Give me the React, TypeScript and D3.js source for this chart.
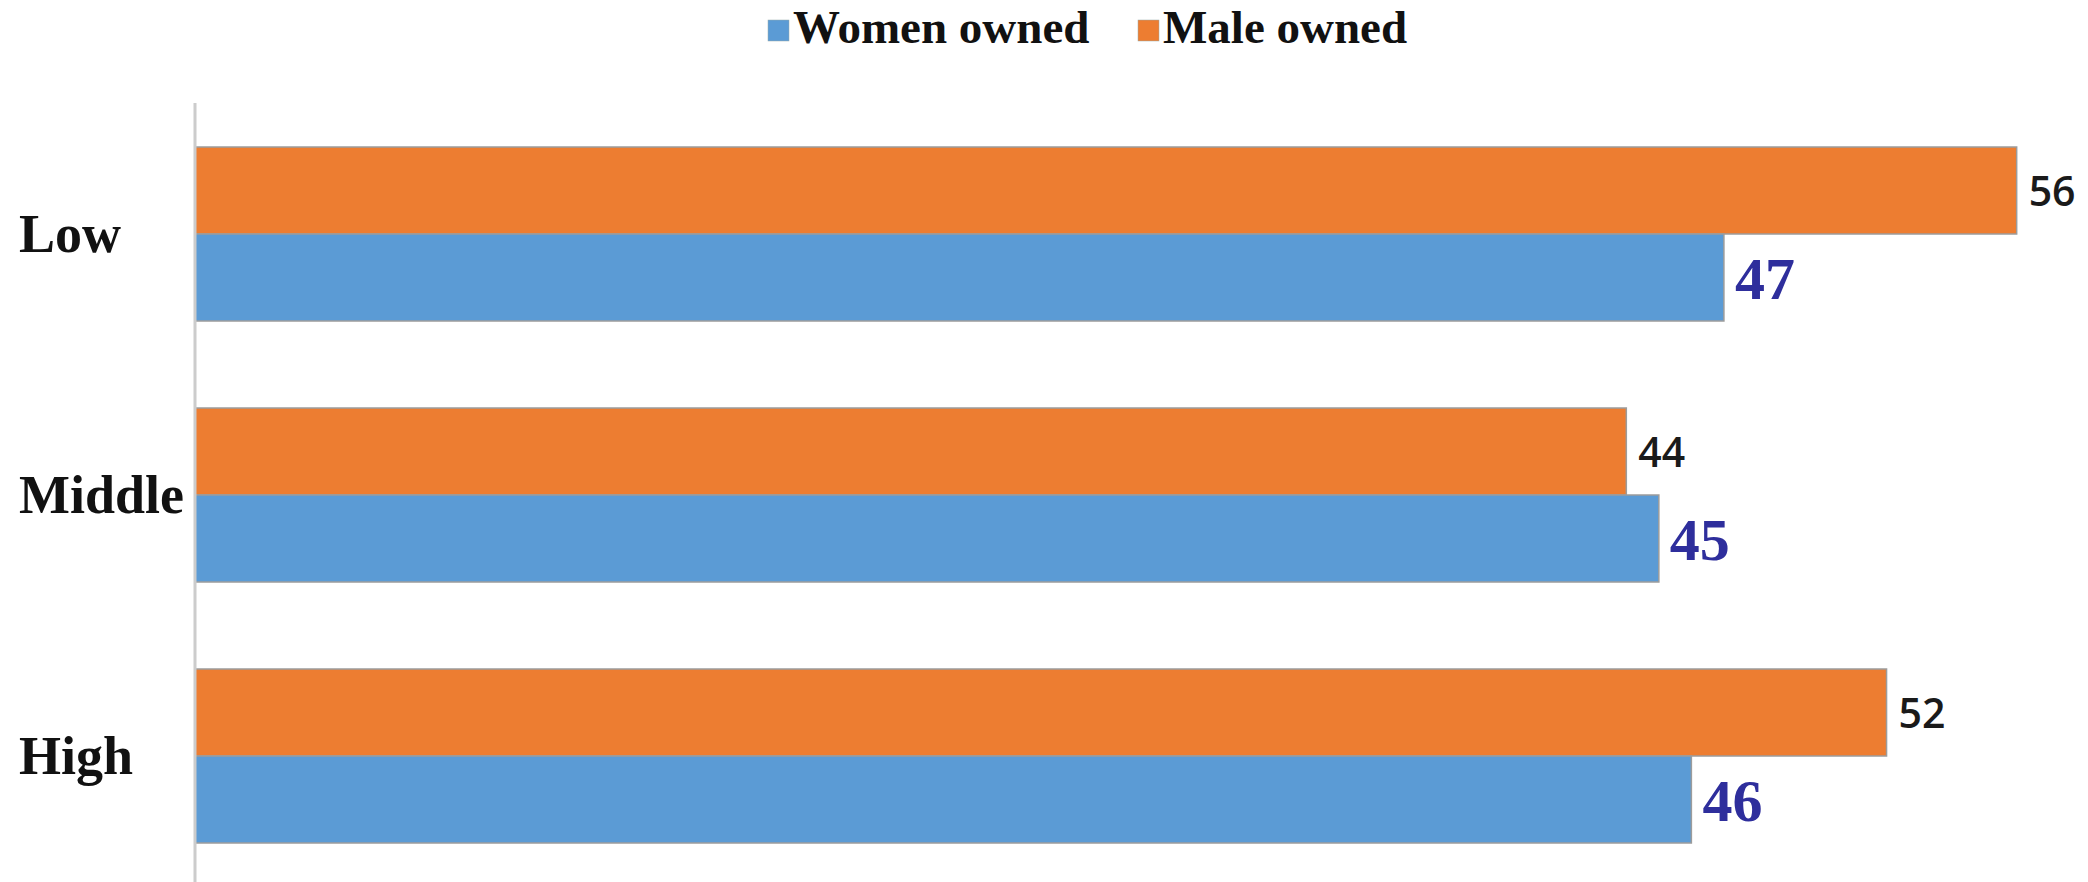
import React from "react";
import * as d3 from "d3";

const categories = ["Low", "Middle", "High"];
const seriesNames = ["Male owned", "Women owned"];
const maleOwned = [56, 44, 52];
const womenOwned = [47, 45, 46];
const legendOrder = ["Women owned", "Male owned"];

const W = 2088;
const H = 882;
const colors: Record<string, string> = {
  "Women owned": "#5B9BD5",
  "Male owned": "#ED7D31",
};

export default function App() {
  const x0 = 195;
  const x = d3.scaleLinear().domain([0, 60]).range([x0, x0 + 60 * 32.53]);
  const y = d3
    .scaleBand<string>()
    .domain(categories)
    .range([103.5, 886.5])
    .paddingInner(1 / 3)
    .paddingOuter(1 / 6);
  const ySub = d3
    .scaleBand<string>()
    .domain(seriesNames)
    .range([0, y.bandwidth()]);

  const valuesFor = (s: string) => (s === "Male owned" ? maleOwned : womenOwned);

  return (
    <svg
      width={W}
      height={H}
      style={{ position: "absolute", left: 0, top: 0, display: "block", background: "#fff" }}
    >
      {/* legend */}
      {legendOrder.map((s, i) => {
        const lx = i === 0 ? 768 : 1138;
        return (
          <g key={s}>
            <rect x={lx} y={20} width={21} height={21} fill={colors[s]} stroke="#9aa" strokeWidth={0.5} />
            <text
              x={lx + 25}
              y={43}
              fontFamily="'Liberation Serif', 'Times New Roman', serif"
              fontWeight="bold"
              fontSize={47}
              fill="#111"
            >
              {s}
            </text>
          </g>
        );
      })}

      {/* bars */}
      {categories.map((c, ci) => (
        <g key={c}>
          {seriesNames.map((s) => {
            const v = valuesFor(s)[ci];
            const by = (y(c) as number) + (ySub(s) as number);
            const bh = ySub.bandwidth();
            const xe = x(v);
            const isMale = s === "Male owned";
            return (
              <g key={s}>
                <rect
                  x={x0}
                  y={by}
                  width={xe - x0}
                  height={bh}
                  fill={colors[s]}
                  stroke="#9c9c9c"
                  strokeWidth={1.5}
                />
                {isMale ? (
                  <text
                    x={xe + 12}
                    y={by + bh / 2 + 15}
                    fontFamily="'Open Sans', Lato, sans-serif"
                    fontWeight={600}
                    fontSize={41}
                    fill="#1a1a1a"
                  >
                    {v}
                  </text>
                ) : (
                  <text
                    x={xe + 11}
                    y={by + bh / 2 + 21}
                    fontFamily="'Liberation Serif', 'Times New Roman', serif"
                    fontWeight="bold"
                    fontSize={60}
                    fill="#2E2E9C"
                  >
                    {v}
                  </text>
                )}
              </g>
            );
          })}
          <text
            x={19}
            y={(y(c) as number) + y.bandwidth() / 2 + 18}
            fontFamily="'Liberation Serif', 'Times New Roman', serif"
            fontWeight="bold"
            fontSize={54}
            fill="#111"
          >
            {c}
          </text>
        </g>
      ))}

      {/* axis */}
      <line x1={x0} x2={x0} y1={103} y2={H} stroke="#cccccc" strokeWidth={3} />
    </svg>
  );
}
